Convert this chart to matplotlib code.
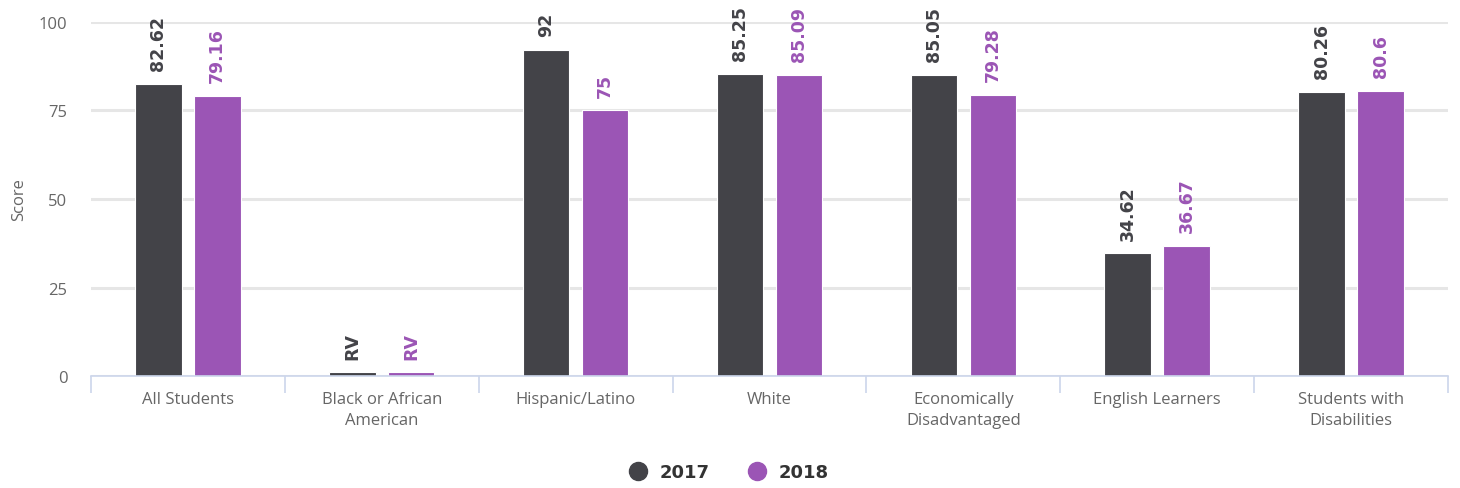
import matplotlib.pyplot as plt
import numpy as np
from matplotlib.lines import Line2D

plt.rcParams['font.family'] = ['Open Sans', 'DejaVu Sans']

# Data
categories = ["All Students", "Black or African\nAmerican", "Hispanic/Latino", "White",
              "Economically\nDisadvantaged", "English Learners", "Students with\nDisabilities"]
values_2017 = [82.62, 1, 92, 85.25, 85.05, 34.62, 80.26]
values_2018 = [79.16, 1, 75, 85.09, 79.28, 36.67, 80.6]
labels_2017 = ["82.62", "RV", "92", "85.25", "85.05", "34.62", "80.26"]
labels_2018 = ["79.16", "RV", "75", "85.09", "79.28", "36.67", "80.6"]
years = ["2017", "2018"]

c17 = '#434348'
c18 = '#9b55b5'

fig = plt.figure(figsize=(14.6, 4.89), dpi=100)
ax = fig.add_axes([0.0623, 0.229, 0.9295, 0.724])

x = np.arange(len(categories))
w = 0.24
ax.bar(x - 0.152, values_2017, w, color=c17, edgecolor='white', linewidth=0.8, zorder=3)
ax.bar(x + 0.152, values_2018, w, color=c18, edgecolor='white', linewidth=0.8, zorder=3)

# rotated value labels
for i in range(len(categories)):
    ax.annotate(labels_2017[i], (x[i] - 0.152, values_2017[i]), xytext=(0, 10),
                textcoords='offset points', rotation=90, ha='center', va='bottom',
                fontsize=12.5, fontweight='bold', color=c17, family='DejaVu Sans',
                clip_on=False)
    ax.annotate(labels_2018[i], (x[i] + 0.152, values_2018[i]), xytext=(0, 10),
                textcoords='offset points', rotation=90, ha='center', va='bottom',
                fontsize=12.5, fontweight='bold', color=c18, family='DejaVu Sans',
                clip_on=False)

ax.set_xlim(-0.5, len(categories) - 0.5)
ax.set_ylim(0, 100)
ax.set_yticks([0, 25, 50, 75, 100])
ax.grid(axis='y', color='#e6e6e6', linewidth=2.2, zorder=0)
ax.tick_params(axis='y', length=0, labelsize=12, labelcolor='#666666', pad=17)
ax.set_ylabel("Score", fontsize=12, color='#666666', labelpad=8)

ax.set_xticks(x)
ax.set_xticklabels(categories, fontsize=12, color='#666666', linespacing=1.4)
ax.tick_params(axis='x', length=0, pad=11)
ax.set_xticks(np.arange(-0.5, len(categories)), minor=True)
ax.tick_params(axis='x', which='minor', length=12, color='#ccd6eb', width=1.2)

for s in ['top', 'right', 'left']:
    ax.spines[s].set_visible(False)
ax.spines['bottom'].set_color('#ccd6eb')
ax.spines['bottom'].set_linewidth(1.2)
ax.spines['bottom'].set_zorder(4)

handles = [Line2D([], [], marker='o', linestyle='', markersize=13, color=c)
           for c in (c17, c18)]
leg = fig.legend(handles, years, loc='center', bbox_to_anchor=(0.496, 0.033), ncol=2,
                 frameon=False, handletextpad=0.2, columnspacing=1.6,
                 prop={'weight': 'bold', 'size': 13, 'family': 'DejaVu Sans'})
for t in leg.get_texts():
    t.set_color('#333333')

fig.savefig("out.png", dpi=100)
